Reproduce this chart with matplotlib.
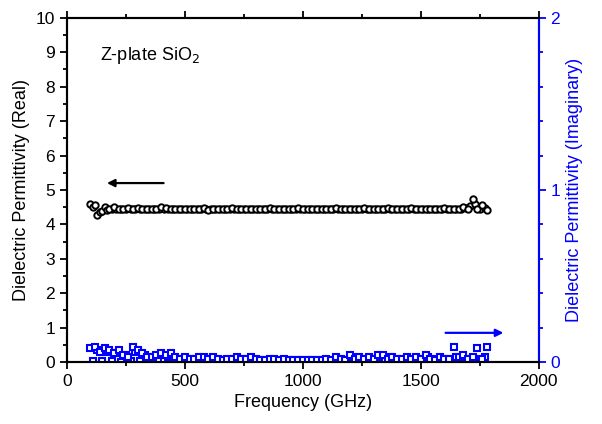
import numpy as np
import matplotlib.pyplot as plt
import matplotlib.ticker as mticker

plt.rcParams["font.family"] = ["Liberation Sans", "DejaVu Sans"]

# ── Data ────────────────────────────────────────────────────────────────────
freq_re = [100, 110, 120, 130, 140, 150, 160, 170, 180, 200, 220, 240, 260, 280,
           300, 320, 340, 360, 380, 400, 420, 440, 460, 480, 500, 520, 540, 560,
           580, 600, 620, 640, 660, 680, 700, 720, 740, 760, 780, 800, 820, 840,
           860, 880, 900, 920, 940, 960, 980, 1000, 1020, 1040, 1060, 1080, 1100,
           1120, 1140, 1160, 1180, 1200, 1220, 1240, 1260, 1280, 1300, 1320, 1340,
           1360, 1380, 1400, 1420, 1440, 1460, 1480, 1500, 1520, 1540, 1560, 1580,
           1600, 1620, 1640, 1660, 1680, 1700, 1720, 1740, 1760, 1780]
eps_re = [4.60, 4.50, 4.55, 4.28, 4.35, 4.40, 4.50, 4.42, 4.45, 4.50, 4.45, 4.45,
          4.47, 4.45, 4.48, 4.45, 4.44, 4.46, 4.44, 4.50, 4.47, 4.44, 4.46, 4.45,
          4.44, 4.45, 4.46, 4.45, 4.47, 4.43, 4.45, 4.44, 4.46, 4.45, 4.47, 4.44,
          4.45, 4.46, 4.45, 4.44, 4.46, 4.45, 4.47, 4.45, 4.44, 4.46, 4.45, 4.45,
          4.47, 4.44, 4.45, 4.46, 4.45, 4.44, 4.46, 4.45, 4.47, 4.44, 4.45, 4.46,
          4.45, 4.44, 4.47, 4.45, 4.46, 4.44, 4.45, 4.48, 4.45, 4.44, 4.46, 4.45,
          4.47, 4.44, 4.46, 4.45, 4.44, 4.46, 4.45, 4.47, 4.44, 4.45, 4.46, 4.50,
          4.45, 4.75, 4.45, 4.55, 4.42]

# in-between real samples (the curve is sampled densely)
freq_re_mid = [190, 210, 230, 250, 270, 290, 310, 330, 350, 370, 390, 410, 430,
               450, 470, 490, 510, 530, 550, 570, 590, 610, 630, 650, 670, 690,
               710, 730, 750, 770, 790, 810, 830, 850, 870, 890, 910, 930, 950,
               970, 990, 1010, 1030, 1050, 1070, 1090, 1110, 1130, 1150, 1170,
               1190, 1210, 1230, 1250, 1270, 1290, 1310, 1330, 1350, 1370, 1390,
               1410, 1430, 1450, 1470, 1490, 1510, 1530, 1550, 1570, 1590, 1610,
               1630, 1650, 1670, 1690, 1710, 1730, 1750, 1770]
eps_re_mid = [4.44, 4.46, 4.45, 4.44, 4.46, 4.45, 4.44, 4.46, 4.45, 4.45, 4.44,
              4.46, 4.45, 4.45, 4.44, 4.46, 4.45, 4.44, 4.45, 4.46, 4.45, 4.44,
              4.46, 4.45, 4.44, 4.45, 4.46, 4.45, 4.44, 4.46, 4.45, 4.45, 4.44,
              4.46, 4.45, 4.44, 4.45, 4.46, 4.45, 4.44, 4.46, 4.45, 4.44, 4.45,
              4.46, 4.45, 4.44, 4.46, 4.45, 4.45, 4.44, 4.46, 4.45, 4.44, 4.45,
              4.46, 4.45, 4.44, 4.46, 4.45, 4.45, 4.44, 4.46, 4.45, 4.44, 4.45,
              4.46, 4.45, 4.44, 4.46, 4.45, 4.45, 4.44, 4.46, 4.45, 4.48, 4.52,
              4.60, 4.46, 4.48]

freq_im = [100, 120, 140, 160, 180, 200, 220, 240, 260, 280, 300, 320, 340, 360,
           380, 400, 420, 440, 460, 480, 500, 520, 540, 560, 580, 600, 620, 640,
           660, 680, 700, 720, 740, 760, 780, 800, 820, 840, 860, 880, 900, 920,
           940, 960, 980, 1000, 1020, 1040, 1060, 1080, 1100, 1120, 1140, 1160,
           1180, 1200, 1220, 1240, 1260, 1280, 1300, 1320, 1340, 1360, 1380, 1400,
           1420, 1440, 1460, 1480, 1500, 1520, 1540, 1560, 1580, 1600, 1620, 1640,
           1660, 1680, 1700, 1720, 1740, 1760, 1780]
eps_im = [0.08, 0.09, 0.06, 0.08, 0.07, 0.05, 0.07, 0.04, 0.03, 0.09, 0.07, 0.05,
          0.03, 0.03, 0.04, 0.05, 0.04, 0.05, 0.03, 0.02, 0.03, 0.02, 0.02, 0.03,
          0.03, 0.02, 0.03, 0.02, 0.01, 0.02, 0.02, 0.03, 0.02, 0.02, 0.03, 0.02,
          0.01, 0.01, 0.02, 0.02, 0.01, 0.02, 0.01, 0.01, 0.01, 0.01, 0.01, 0.01,
          0.01, 0.01, 0.02, 0.01, 0.03, 0.02, 0.01, 0.04, 0.02, 0.03, 0.02, 0.03,
          0.02, 0.04, 0.04, 0.02, 0.03, 0.02, 0.02, 0.03, 0.02, 0.03, 0.02, 0.04,
          0.02, 0.01, 0.03, 0.02, 0.02, 0.09, 0.03, 0.04, 0.02, 0.03, 0.08, 0.02,
          0.09]

# in-between imaginary samples, mostly close to the axis
freq_im_low = [110, 130, 150, 170, 190, 210, 230, 250, 270, 290, 310, 330, 350,
               370, 390, 410, 430, 450, 470, 490, 510, 530, 550, 570, 590, 610,
               630, 650, 670, 690, 710, 730, 750, 770, 790, 810, 830, 850, 870,
               890, 910, 930, 950, 970, 990, 1010, 1030, 1050, 1070, 1090, 1110,
               1130, 1150, 1170, 1190, 1210, 1230, 1250, 1270, 1290, 1310, 1330,
               1350, 1370, 1390, 1410, 1430, 1450, 1470, 1490, 1510, 1530, 1550,
               1570, 1590, 1610, 1630, 1650, 1670, 1690, 1710, 1730, 1750, 1770]
eps_im_low = [0.005, 0.07, 0.004, 0.06, 0.006, 0.05, 0.003, 0.04, 0.005, 0.06,
              0.004, 0.04, 0.003, 0.03, 0.005, 0.004, 0.03, 0.005, 0.02, 0.004,
              0.02, 0.003, 0.02, 0.004, 0.02, 0.005, 0.02, 0.003, 0.01, 0.004,
              0.02, 0.005, 0.02, 0.003, 0.02, 0.004, 0.01, 0.003, 0.01, 0.004,
              0.01, 0.005, 0.01, 0.003, 0.01, 0.004, 0.01, 0.003, 0.01, 0.004,
              0.01, 0.005, 0.02, 0.003, 0.01, 0.03, 0.004, 0.02, 0.003, 0.02,
              0.004, 0.03, 0.005, 0.03, 0.004, 0.02, 0.003, 0.02, 0.004, 0.02,
              0.005, 0.03, 0.004, 0.02, 0.003, 0.02, 0.004, 0.03, 0.005, 0.02,
              0.004, 0.02, 0.003, 0.03]

BLUE = "#0000ff"

fig = plt.figure(figsize=(6.02, 4.24), dpi=100)
ax = fig.add_axes([0.111, 0.146, 0.784, 0.812])
ax2 = ax.twinx()

ax.plot(freq_re_mid, eps_re_mid, "o", ls="none", mfc="white", mec="black",
        ms=4.6, mew=1.4, zorder=3)
ax.plot(freq_re, eps_re, "o", ls="none", mfc="white", mec="black",
        ms=4.6, mew=1.4, zorder=3)
ax2.plot(freq_im_low, eps_im_low, "s", ls="none", mfc="white", mec=BLUE,
         ms=4.4, mew=1.5)
ax2.plot(freq_im, eps_im, "s", ls="none", mfc="white", mec=BLUE,
         ms=4.4, mew=1.5)

# arrows
ax.annotate("", xy=(170, 5.2), xytext=(410, 5.2),
            arrowprops=dict(arrowstyle="-|>", color="black", lw=1.6,
                            mutation_scale=11, shrinkA=0, shrinkB=0))
ax2.annotate("", xy=(1850, 0.17), xytext=(1605, 0.17),
             arrowprops=dict(arrowstyle="-|>", color=BLUE, lw=1.6,
                             mutation_scale=11, shrinkA=0, shrinkB=0))

ax.text(140, 8.9, "Z-plate SiO$_2$", fontsize=13, ha="left", va="center")

# axes ranges / ticks
ax.set_xlim(0, 2000)
ax.set_ylim(0, 10)
ax2.set_ylim(0, 2)
ax.xaxis.set_major_locator(mticker.MultipleLocator(500))
ax.xaxis.set_minor_locator(mticker.MultipleLocator(250))
ax.yaxis.set_major_locator(mticker.MultipleLocator(1))
ax.yaxis.set_minor_locator(mticker.MultipleLocator(0.5))
ax2.yaxis.set_major_locator(mticker.MultipleLocator(1))
ax2.yaxis.set_minor_locator(mticker.MultipleLocator(0.2))

ax.tick_params(axis="x", which="both", direction="out", top=True, labelsize=12.5)
ax.tick_params(axis="x", which="major", length=5, width=1.3)
ax.tick_params(axis="x", which="minor", length=3, width=1.3)
ax.tick_params(axis="y", which="major", direction="out", length=5, width=1.3,
               labelsize=12.5)
ax.tick_params(axis="y", which="minor", direction="out", length=3, width=1.3)
ax2.tick_params(axis="y", which="major", direction="out", length=5, width=1.3,
                colors=BLUE, labelsize=12.5)
ax2.tick_params(axis="y", which="minor", direction="out", length=3, width=1.3,
                colors=BLUE)

for sp in ax.spines.values():
    sp.set_linewidth(1.5)
for sp in ax2.spines.values():
    sp.set_linewidth(1.5)
ax2.spines["right"].set_color(BLUE)

ax.set_xlabel("Frequency (GHz)", fontsize=13)
ax.set_ylabel("Dielectric Permittivity (Real)", fontsize=13)
ax2.set_ylabel("Dielectric Permittivity (Imaginary)", fontsize=13, color=BLUE)

fig.savefig("out.png", dpi=100)
